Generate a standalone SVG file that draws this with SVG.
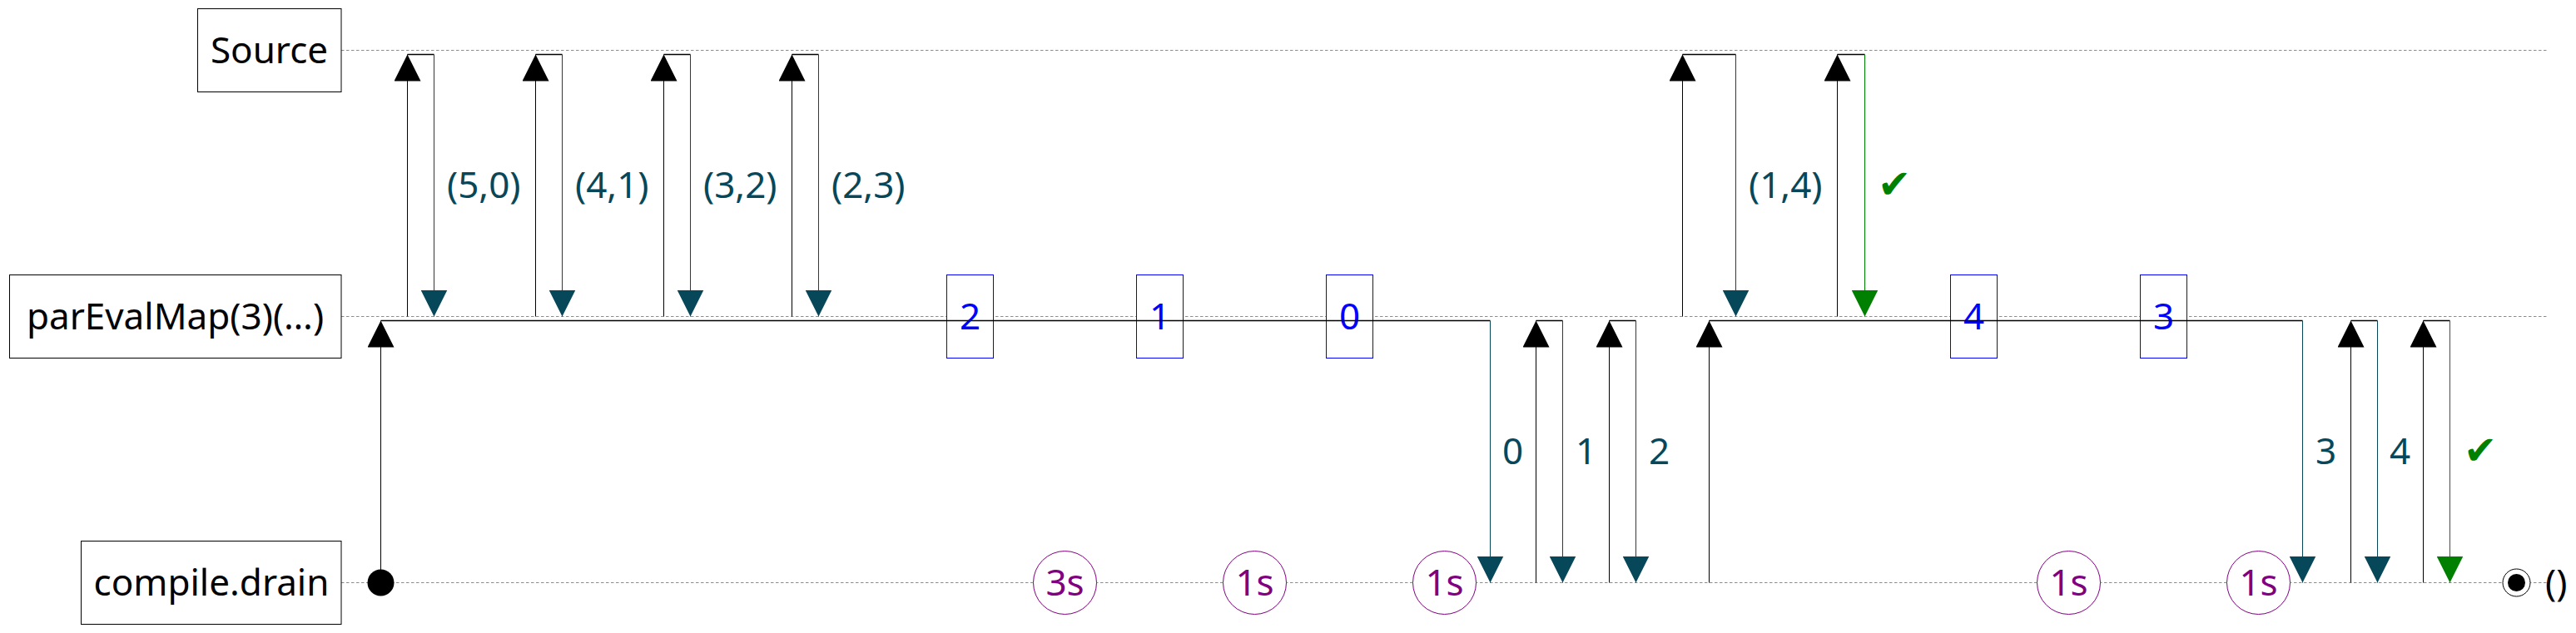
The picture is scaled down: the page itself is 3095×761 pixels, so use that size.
<svg xmlns="http://www.w3.org/2000/svg" width="3095" height="761" viewBox="0 0 3095 761">
<style>
.bg{fill:#fff}
.node rect{fill:#fff;stroke:#000;stroke-width:1}
.node text{font-family:"Noto Sans",sans-serif;font-size:44px;fill:#000;text-anchor:middle}
.life{stroke:#8c8c8c;stroke-width:1;stroke-dasharray:3.5 2.5;fill:none}
.up{stroke:#000;stroke-width:1;fill:none;marker-end:url(#mb)}
.hz{stroke:#000;stroke-width:1.3;fill:none}
.dn{stroke:#07475a;stroke-width:1;fill:none;marker-end:url(#mt)}
.dg{stroke:#008000;stroke-width:1;fill:none;marker-end:url(#mg)}
.lbl{font-family:"Noto Sans",sans-serif;font-size:44px;fill:#07475a}
.chk{font-family:"DejaVu Sans",sans-serif;font-size:48px;fill:#008000}
.val rect{fill:#fff;stroke:#0000ff;stroke-width:1}
.val text{font-family:"Noto Sans",sans-serif;font-size:44px;fill:#0000ff;text-anchor:middle}
.tm circle{fill:#fff;stroke:#800080;stroke-width:1}
.tm text{font-family:"Noto Sans",sans-serif;font-size:44px;fill:#800080;text-anchor:middle}
</style>
<defs>
<marker id="mb" markerUnits="userSpaceOnUse" markerWidth="32" markerHeight="32" refX="32" refY="16" orient="auto" viewBox="0 0 32 32"><path d="M0,0 L32,16 L0,32 z" fill="#000"/></marker>
<marker id="mt" markerUnits="userSpaceOnUse" markerWidth="32" markerHeight="32" refX="32" refY="16" orient="auto" viewBox="0 0 32 32"><path d="M0,0 L32,16 L0,32 z" fill="#07475a"/></marker>
<marker id="mg" markerUnits="userSpaceOnUse" markerWidth="32" markerHeight="32" refX="32" refY="16" orient="auto" viewBox="0 0 32 32"><path d="M0,0 L32,16 L0,32 z" fill="#008000"/></marker>
</defs>
<rect class="bg" x="0" y="0" width="3095" height="761"/>

<g id="lifelines">
<line class="life" x1="410" y1="60.5" x2="3061" y2="60.5"/>
<line class="life" x1="410" y1="380.5" x2="3061" y2="380.5"/>
<line class="life" x1="410" y1="700.5" x2="3061" y2="700.5"/>
</g>

<g id="node-source" class="node"><rect x="237.5" y="10.5" width="172.5" height="100"/><text x="323.5" y="76">Source</text></g>
<g id="node-pareval" class="node"><rect x="11.5" y="330.5" width="398.5" height="100"/><text x="210.5" y="396">parEvalMap(3)(…)</text></g>
<g id="node-drain" class="node"><rect x="97.5" y="650.5" width="312.5" height="100"/><text x="254" y="716">compile.drain</text></g>

<g id="values">
<g class="val"><rect x="1137.5" y="330.5" width="56" height="100"/><text x="1165.5" y="396">2</text></g>
<g class="val"><rect x="1365.5" y="330.5" width="56" height="100"/><text x="1393.5" y="396">1</text></g>
<g class="val"><rect x="1593.5" y="330.5" width="56" height="100"/><text x="1621.5" y="396">0</text></g>
<g class="val"><rect x="2343.5" y="330.5" width="56" height="100"/><text x="2371.5" y="396">4</text></g>
<g class="val"><rect x="2571.5" y="330.5" width="56" height="100"/><text x="2599.5" y="396">3</text></g>
</g>

<g id="timers">
<g class="tm"><circle cx="1279.5" cy="700.5" r="38"/><text x="1279.5" y="716">3s</text></g>
<g class="tm"><circle cx="1507.5" cy="700.5" r="38"/><text x="1507.5" y="716">1s</text></g>
<g class="tm"><circle cx="1735.5" cy="700.5" r="38"/><text x="1735.5" y="716">1s</text></g>
<g class="tm"><circle cx="2485.5" cy="700.5" r="38"/><text x="2485.5" y="716">1s</text></g>
<g class="tm"><circle cx="2713.5" cy="700.5" r="38"/><text x="2713.5" y="716">1s</text></g>
</g>

<g id="connectors">
<line class="up" x1="489.5" y1="380.5" x2="489.5" y2="65.5"/><line class="hz" x1="489.5" y1="65.5" x2="521.5" y2="65.5"/><line class="dn" x1="521.5" y1="65.5" x2="521.5" y2="380.5"/>
<text class="lbl" x="537" y="238">(5,0)</text>
<line class="up" x1="643.5" y1="380.5" x2="643.5" y2="65.5"/><line class="hz" x1="643.5" y1="65.5" x2="675.5" y2="65.5"/><line class="dn" x1="675.5" y1="65.5" x2="675.5" y2="380.5"/>
<text class="lbl" x="691" y="238">(4,1)</text>
<line class="up" x1="797.5" y1="380.5" x2="797.5" y2="65.5"/><line class="hz" x1="797.5" y1="65.5" x2="829.5" y2="65.5"/><line class="dn" x1="829.5" y1="65.5" x2="829.5" y2="380.5"/>
<text class="lbl" x="845" y="238">(3,2)</text>
<line class="up" x1="951.5" y1="380.5" x2="951.5" y2="65.5"/><line class="hz" x1="951.5" y1="65.5" x2="983.5" y2="65.5"/><line class="dn" x1="983.5" y1="65.5" x2="983.5" y2="380.5"/>
<text class="lbl" x="999" y="238">(2,3)</text>
<line class="up" x1="2021.5" y1="380.5" x2="2021.5" y2="65.5"/><line class="hz" x1="2021.5" y1="65.5" x2="2085.5" y2="65.5"/><line class="dn" x1="2085.5" y1="65.5" x2="2085.5" y2="380.5"/>
<text class="lbl" x="2101" y="238">(1,4)</text>
<line class="up" x1="2207.5" y1="380.5" x2="2207.5" y2="65.5"/><line class="hz" x1="2207.5" y1="65.5" x2="2240.5" y2="65.5"/><line class="dg" x1="2240.5" y1="65.5" x2="2240.5" y2="380.5"/>
<text class="chk" x="2256" y="238">✔</text>

<circle cx="457.5" cy="700.5" r="16" fill="#000"/>
<line class="up" x1="457.5" y1="700.5" x2="457.5" y2="385.5"/><line class="hz" x1="457.5" y1="385.5" x2="1790.5" y2="385.5"/><line class="dn" x1="1790.5" y1="385.5" x2="1790.5" y2="700.5"/>
<text class="lbl" x="1805" y="558">0</text>
<line class="up" x1="1845.5" y1="700.5" x2="1845.5" y2="385.5"/><line class="hz" x1="1845.5" y1="385.5" x2="1877.5" y2="385.5"/><line class="dn" x1="1877.5" y1="385.5" x2="1877.5" y2="700.5"/>
<text class="lbl" x="1893" y="558">1</text>
<line class="up" x1="1933.5" y1="700.5" x2="1933.5" y2="385.5"/><line class="hz" x1="1933.5" y1="385.5" x2="1965.5" y2="385.5"/><line class="dn" x1="1965.5" y1="385.5" x2="1965.5" y2="700.5"/>
<text class="lbl" x="1981" y="558">2</text>
<line class="up" x1="2053.5" y1="700.5" x2="2053.5" y2="385.5"/><line class="hz" x1="2053.5" y1="385.5" x2="2766.5" y2="385.5"/><line class="dn" x1="2766.5" y1="385.5" x2="2766.5" y2="700.5"/>
<text class="lbl" x="2782" y="558">3</text>
<line class="up" x1="2824.5" y1="700.5" x2="2824.5" y2="385.5"/><line class="hz" x1="2824.5" y1="385.5" x2="2856.5" y2="385.5"/><line class="dn" x1="2856.5" y1="385.5" x2="2856.5" y2="700.5"/>
<text class="lbl" x="2871" y="558">4</text>
<line class="up" x1="2911.5" y1="700.5" x2="2911.5" y2="385.5"/><line class="hz" x1="2911.5" y1="385.5" x2="2943.5" y2="385.5"/><line class="dg" x1="2943.5" y1="385.5" x2="2943.5" y2="700.5"/>
<text class="chk" x="2960" y="558">✔</text>
</g>

<g id="end">
<circle cx="3023.5" cy="700.5" r="16.5" fill="#fff" stroke="#000" stroke-width="1"/>
<circle cx="3023.5" cy="700.5" r="10.5" fill="#000"/>
<text x="3058" y="716" font-family="Noto Sans, sans-serif" font-size="44" fill="#000">()</text>
</g>
</svg>
